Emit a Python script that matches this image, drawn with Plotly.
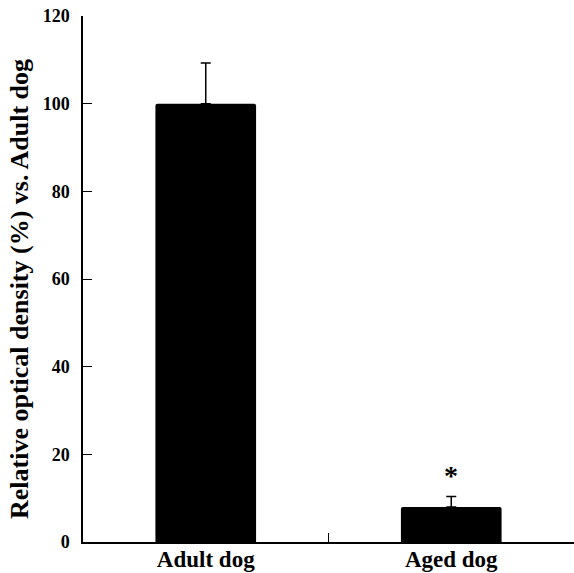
import plotly.graph_objects as go

categories = ["Adult dog", "Aged dog"]
values = [100, 8]
errors = [9.3, 2.4]
y_ticks = [0, 20, 40, 60, 80, 100, 120]
sig_marks = ["", "*"]
sig_y = [None, 15.2]
y_title = "Relative optical density (%) vs. Adult dog"

font_family = "Liberation Serif, Times New Roman, serif"

fig = go.Figure()
fig.add_trace(go.Bar(
    x=categories,
    y=values,
    width=0.41,
    marker=dict(color="black", line=dict(width=0), cornerradius=2),
    error_y=dict(type="data", array=errors, arrayminus=[0, 0], symmetric=False,
                 color="black", thickness=1.5, width=5),
    showlegend=False,
))

for c, s, yy in zip(categories, sig_marks, sig_y):
    if s:
        fig.add_annotation(x=c, y=yy, text=s, showarrow=False,
                           font=dict(family=font_family, size=28, color="black", weight="bold"),
                           yanchor="middle")

fig.add_annotation(
    xref="paper", yref="paper", x=0, y=0.48, xanchor="center", yanchor="middle",
    xshift=-63.5, text=y_title, textangle=-90, showarrow=False,
    font=dict(family=font_family, size=26, color="black", weight="bold"),
)

fig.update_layout(
    width=574, height=573,
    margin=dict(l=83, r=0, t=16, b=31),
    paper_bgcolor="white", plot_bgcolor="white",
    font=dict(family=font_family, color="black"),
    xaxis=dict(
        type="category", range=[-0.5, 1.5], automargin=False,
        showline=True, linecolor="black", linewidth=1.5,
        ticks="inside", tickson="boundaries", ticklen=9, tickwidth=1.2, tickcolor="black",
        ticklabelstandoff=-4,
        showgrid=False, zeroline=False,
        tickfont=dict(family=font_family, size=23, color="black", weight="bold"),
    ),
    yaxis=dict(
        range=[0, 120], tickvals=y_ticks, automargin=False,
        showline=True, linecolor="black", linewidth=1.5,
        ticks="inside", ticklen=9, tickwidth=1.2, tickcolor="black",
        ticklabelstandoff=8, ticklabeloverflow="allow",
        showgrid=False, zeroline=False,
        tickfont=dict(family=font_family, size=18, color="black", weight="bold"),
    ),
)

fig.write_html("out.html", config={"displayModeBar": False},
               post_script="document.body.style.margin='0';")
